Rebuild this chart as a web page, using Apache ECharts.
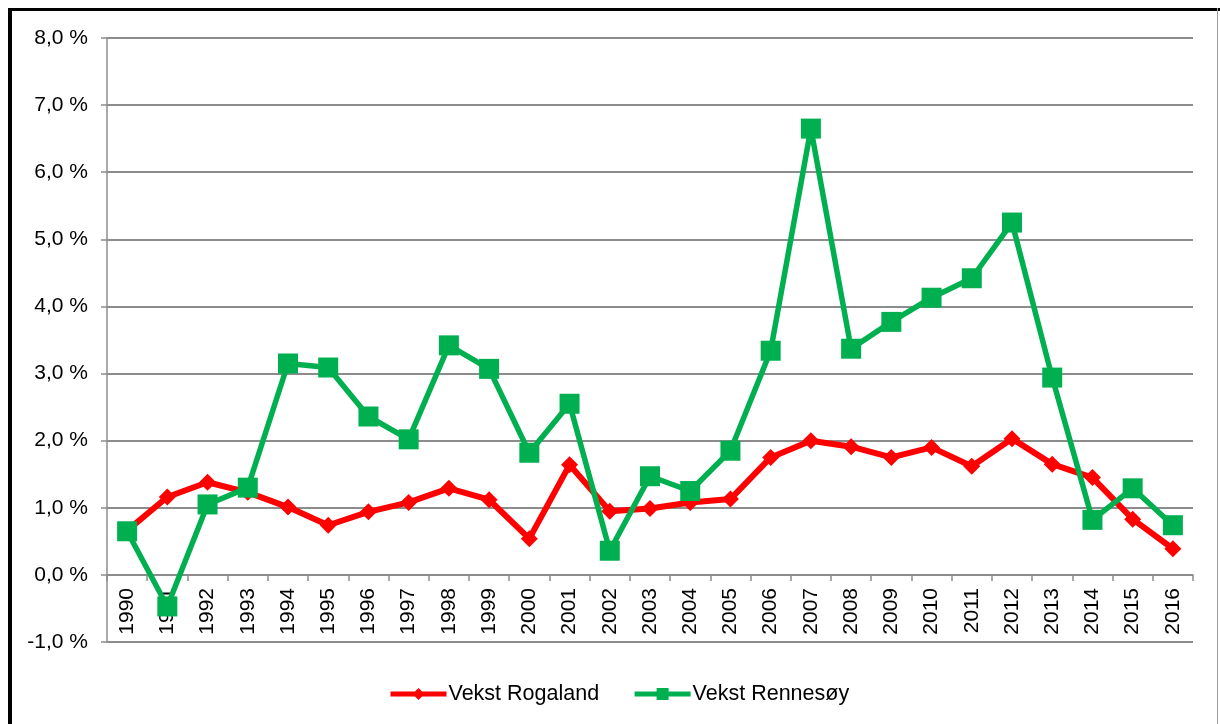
<!DOCTYPE html>
<html>
<head>
<meta charset="utf-8">
<script src="https://cdn.jsdelivr.net/npm/echarts@6/dist/echarts.min.js"></script>
<style>
html,body{margin:0;padding:0;background:#fff;}
#c{width:1220px;height:724px;}
</style>
</head>
<body>
<div id="c"></div>
<script>
const years = ['1990','1991','1992','1993','1994','1995','1996','1997','1998','1999','2000','2001','2002','2003','2004','2005','2006','2007','2008','2009','2010','2011','2012','2013','2014','2015','2016'];
const vekstRogaland = [0.66,1.16,1.38,1.23,1.01,0.74,0.94,1.08,1.29,1.12,0.54,1.64,0.95,0.99,1.08,1.13,1.75,2.00,1.91,1.75,1.90,1.62,2.03,1.65,1.45,0.83,0.39];
const vekstRennesoy = [0.65,-0.47,1.05,1.30,3.15,3.09,2.36,2.02,3.42,3.07,1.82,2.55,0.36,1.47,1.25,1.85,3.34,6.65,3.37,3.77,4.13,4.42,5.25,2.94,0.82,1.29,0.74];
const yTicks = {min:-1, max:8, interval:1};

const chart = echarts.init(document.getElementById('c'), null, {renderer:'canvas'});
const font = '"Liberation Sans", Arial, sans-serif';
chart.setOption({
  animation:false,
  backgroundColor:'#fff',
  textStyle:{fontFamily:font},
  grid:{left:107,right:27,top:38,bottom:82,containLabel:false},
  graphic:[
    {type:'rect',shape:{x:8,y:8,width:1212,height:3},style:{fill:'#000'}},
    {type:'rect',shape:{x:8,y:8,width:4,height:716},style:{fill:'#000'}},
    {type:'rect',shape:{x:1217,y:8,width:1,height:716},style:{fill:'#a0a0a0'}}
  ],
  legend:{
    left:383, top:678,
    itemWidth:56, itemHeight:15, itemGap:33,
    lineStyle:{width:5},
    textStyle:{fontSize:21.5,color:'#000',fontFamily:font,padding:[0,0,0,-3]},
    data:['Vekst Rogaland','Vekst Rennesøy']
  },
  xAxis:{
    type:'category',
    data:years,
    boundaryGap:true,
    axisLine:{onZero:true,lineStyle:{color:'#8c8c8c',width:1.5}},
    axisTick:{show:true,interval:0,length:6,lineStyle:{color:'#8c8c8c',width:1.5}},
    axisLabel:{interval:0,rotate:90,fontSize:21,color:'#000',margin:-54,fontFamily:font},
    splitLine:{show:false}
  },
  yAxis:{
    type:'value',
    min:yTicks.min,max:yTicks.max,interval:yTicks.interval,
    axisLine:{show:true,lineStyle:{color:'#8c8c8c',width:1.5}},
    axisTick:{show:true,length:6,lineStyle:{color:'#8c8c8c',width:1.5}},
    axisLabel:{fontSize:21,color:'#000',margin:19,fontFamily:font,
      formatter:v=>v.toFixed(1).replace('.',',')+' %'},
    splitLine:{show:true,lineStyle:{color:'#8c8c8c',width:2}}
  },
  series:[
    {
      name:'Vekst Rogaland',type:'line',data:vekstRogaland,
      symbol:'diamond',symbolSize:17,
      itemStyle:{color:'#ff0000'},
      lineStyle:{color:'#ff0000',width:6},
      z:2
    },
    {
      name:'Vekst Rennesøy',type:'line',data:vekstRennesoy,
      symbol:'rect',symbolSize:20,
      itemStyle:{color:'#00b050'},
      lineStyle:{color:'#00b050',width:5.5},
      z:3
    }
  ]
});
</script>
</body>
</html>
